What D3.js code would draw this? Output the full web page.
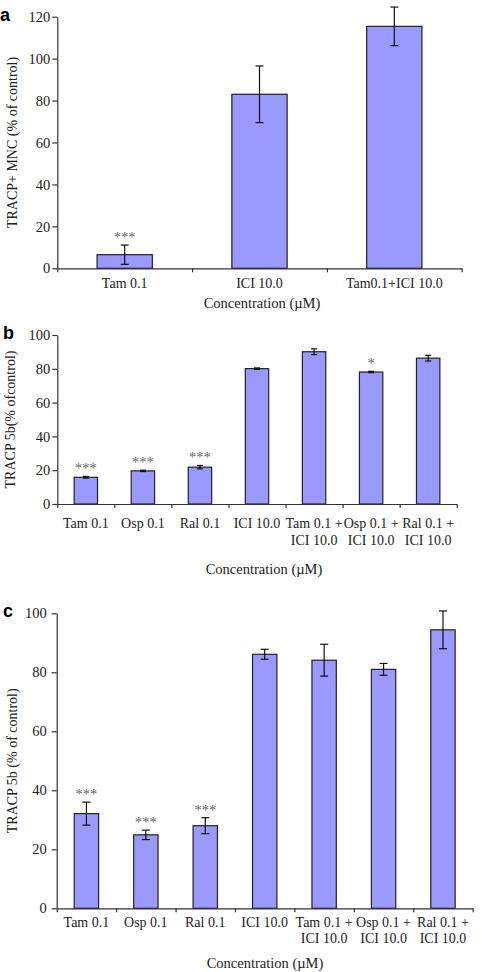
<!DOCTYPE html>
<html><head><meta charset="utf-8">
<script src="https://cdn.jsdelivr.net/npm/d3@7"></script>
<style>
body{margin:0;background:#fff;}
svg{display:block;}
</style></head>
<body>
<script>
// ---------- data ----------
const catsA = [["Tam 0.1"], ["ICI 10.0"], ["Tam0.1+ICI 10.0"]];
const valsA = [6.5, 83.0, 115.4];
const errA = [4.6, 13.5, 9.2];
const starsA = ["***", "", ""];
const ticksA = [0, 20, 40, 60, 80, 100, 120];

const catsBC = [["Tam 0.1"], ["Osp 0.1"], ["Ral 0.1"], ["ICI 10.0"],
  ["Tam 0.1 +", "ICI 10.0"], ["Osp 0.1 +", "ICI 10.0"], ["Ral 0.1 +", "ICI 10.0"]];
const valsB = [15.8, 19.6, 21.8, 80.1, 90.1, 78.1, 86.3];
const errB = [0.5, 0.4, 1.0, 0.4, 1.7, 0.4, 1.7];
const starsB = ["***", "***", "***", "", "", "*", ""];
const ticksB = [0, 20, 40, 60, 80, 100];

const valsC = [32.1, 24.9, 28.0, 86.1, 84.1, 81.0, 94.4];
const errC = [3.9, 1.6, 2.7, 1.7, 5.4, 2.0, 6.4];
const starsC = ["***", "***", "***", "", "", "", ""];
const ticksC = [0, 20, 40, 60, 80, 100];

const yTitles = ["TRACP+ MNC (% of control)", "TRACP 5b(% ofcontrol)", "TRACP 5b (% of control)"];
const xTitle = "Concentration (\u00B5M)";
const panelLetters = ["a", "b", "c"];

// ---------- layout ----------
const W = 482, H = 972;
const svg = d3.select("body").append("svg").attr("width", W).attr("height", H);
const SERIF = "'Liberation Serif','Times New Roman',serif";
const FILL = "#9999ff";
const INK = "#222";

const panels = [
  {cats: catsA, vals: valsA, errs: errA, stars: starsA, ticks: ticksA, ymax: 120,
   x0: 57.3, x1: 461.7, yTop: 16.7, yBot: 268.3, cap: 8, tickPad: 2,
   lab1: 287.5, lineH: 16, titleX: 262, titleY: 308, yTitleX: 12,
   letterX: 0, letterY: 21, yTitle: yTitles[0], letter: panelLetters[0]},
  {cats: catsBC, vals: valsB, errs: errB, stars: starsB, ticks: ticksB, ymax: 100,
   x0: 57.3, x1: 456.7, yTop: 335, yBot: 504, cap: 6, tickPad: 2,
   lab1: 528, lineH: 17, titleX: 264, titleY: 574, yTitleX: 10,
   letterX: 3, letterY: 338.5, yTitle: yTitles[1], letter: panelLetters[1]},
  {cats: catsBC, vals: valsC, errs: errC, stars: starsC, ticks: ticksC, ymax: 100,
   x0: 56.7, x1: 472.7, yTop: 613.3, yBot: 908.3, cap: 8, tickPad: 5,
   lab1: 926.5, lineH: 16, titleX: 265, titleY: 968, yTitleX: 12.7,
   letterX: 3, letterY: 617, yTitle: yTitles[2], letter: panelLetters[2]}
];

panels.forEach(p => {
  const n = p.cats.length;
  const g = svg.append("g");
  const y = d3.scaleLinear().domain([0, p.ymax]).range([p.yBot, p.yTop]);
  const xb = d3.scaleBand().domain(d3.range(n)).range([p.x0, p.x1]).padding(0);
  const xl = d3.scaleLinear().domain([0, n]).range([p.x0, p.x1]);
  const bw = xb.bandwidth() * 0.41;
  const cx = i => xb(i) + xb.bandwidth() / 2;

  // bars
  g.selectAll("rect.bar").data(p.vals).join("rect")
    .attr("class", "bar")
    .attr("x", (d, i) => cx(i) - bw / 2)
    .attr("width", bw)
    .attr("y", d => y(d))
    .attr("height", d => y(0) - y(d))
    .attr("fill", FILL)
    .attr("stroke", "#222")
    .attr("stroke-width", 1.2);

  // error bars
  const eg = g.selectAll("g.err").data(p.vals).join("g").attr("class", "err")
    .attr("stroke", "#111").attr("stroke-width", 1.2);
  eg.append("line")
    .attr("x1", (d, i) => cx(i)).attr("x2", (d, i) => cx(i))
    .attr("y1", (d, i) => y(d + p.errs[i])).attr("y2", (d, i) => y(d - p.errs[i]));
  eg.append("line")
    .attr("x1", (d, i) => cx(i) - p.cap / 2).attr("x2", (d, i) => cx(i) + p.cap / 2)
    .attr("y1", (d, i) => y(d + p.errs[i])).attr("y2", (d, i) => y(d + p.errs[i]));
  eg.append("line")
    .attr("x1", (d, i) => cx(i) - p.cap / 2).attr("x2", (d, i) => cx(i) + p.cap / 2)
    .attr("y1", (d, i) => y(d - p.errs[i])).attr("y2", (d, i) => y(d - p.errs[i]));

  // significance stars
  g.selectAll("text.star").data(p.stars).join("text")
    .attr("class", "star")
    .attr("x", (d, i) => cx(i))
    .attr("y", (d, i) => y(p.vals[i] + p.errs[i]) - 3)
    .attr("text-anchor", "middle")
    .attr("font-family", SERIF).attr("font-size", 14.5)
    .attr("fill", "#666")
    .text(d => d);

  // y axis
  const ya = g.append("g").attr("transform", `translate(${p.x0},0)`)
    .call(d3.axisLeft(y).tickValues(p.ticks).tickSize(5).tickSizeOuter(0).tickPadding(p.tickPad));
  ya.selectAll("text").attr("font-family", SERIF).attr("font-size", 14.5).attr("fill", INK);
  ya.selectAll("line,path").attr("stroke", "#333").attr("stroke-width", 1.2);

  // x axis (tick marks at category boundaries)
  const xa = g.append("g").attr("transform", `translate(0,${p.yBot})`)
    .call(d3.axisBottom(xl).tickValues(d3.range(n + 1)).tickFormat("").tickSize(4).tickSizeOuter(0));
  xa.selectAll("line,path").attr("stroke", "#333").attr("stroke-width", 1.2);

  // category labels
  const lt = g.selectAll("text.cat").data(p.cats).join("text")
    .attr("class", "cat")
    .attr("text-anchor", "middle")
    .attr("font-family", SERIF).attr("font-size", 14).attr("fill", INK);
  lt.each(function(lines, i) {
    d3.select(this).selectAll("tspan").data(lines).join("tspan")
      .attr("x", cx(i))
      .attr("y", (l, j) => p.lab1 + j * p.lineH)
      .text(l => l);
  });

  // axis titles
  g.append("text")
    .attr("x", p.titleX).attr("y", p.titleY)
    .attr("text-anchor", "middle")
    .attr("font-family", SERIF).attr("font-size", 14.5).attr("fill", INK)
    .text(xTitle);
  g.append("text")
    .attr("transform", `translate(${p.yTitleX},${(p.yTop + p.yBot) / 2}) rotate(-90)`)
    .attr("text-anchor", "middle")
    .attr("dominant-baseline", "central")
    .attr("font-family", SERIF).attr("font-size", 14).attr("fill", INK)
    .text(p.yTitle);

  // panel letter
  g.append("text")
    .attr("x", p.letterX).attr("y", p.letterY)
    .attr("font-family", "'Liberation Sans',Arial,sans-serif")
    .attr("font-weight", "bold").attr("font-size", 18)
    .text(p.letter);
});
</script>
</body></html>
